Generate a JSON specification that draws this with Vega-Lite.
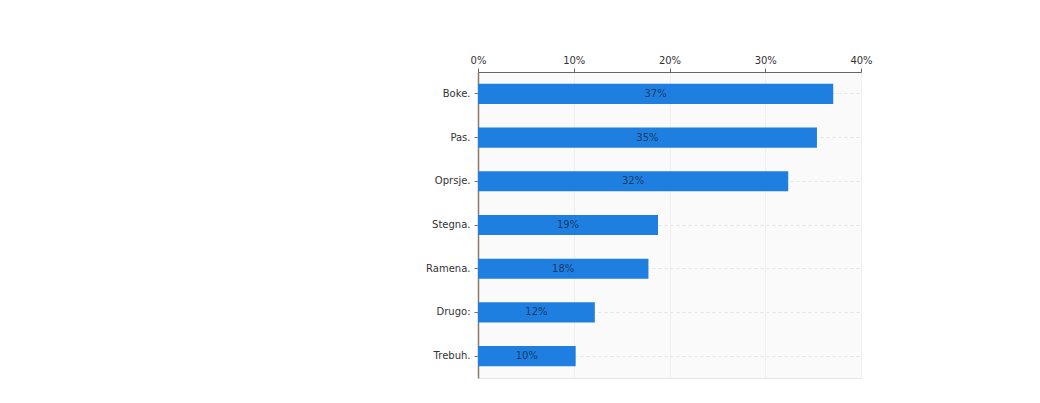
{
  "$schema": "https://vega.github.io/schema/vega-lite/v6.json",
  "autosize": "none",
  "width": 383,
  "height": 306,
  "padding": {"left": 478, "top": 72, "right": 179, "bottom": 25},
  "background": "white",
  "data": {"values": [
    {"cat": "Boke.", "v": 37.1, "lbl": "37%"},
    {"cat": "Pas.", "v": 35.4, "lbl": "35%"},
    {"cat": "Oprsje.", "v": 32.4, "lbl": "32%"},
    {"cat": "Stegna.", "v": 18.8, "lbl": "19%"},
    {"cat": "Ramena.", "v": 17.8, "lbl": "18%"},
    {"cat": "Drugo:", "v": 12.2, "lbl": "12%"},
    {"cat": "Trebuh.", "v": 10.2, "lbl": "10%"}
  ]},
  "encoding": {
    "y": {"field": "cat", "type": "nominal", "sort": null,
      "scale": {"paddingInner": 0.54, "paddingOuter": 0.27},
      "axis": {"title": null, "domain": true, "domainColor": "#8a7a6a", "domainWidth": 1.5, "ticks": true, "tickSize": 4, "tickColor": "#777", "labelFont": "DejaVu Sans", "labelFontSize": 10, "labelColor": "#333", "labelPadding": 4, "grid": true, "gridColor": "#e4e4e4", "gridDash": [3, 3]}}
  },
  "layer": [
    {
      "mark": {"type": "bar", "color": "#1e7fe0"},
      "encoding": {
        "x": {"field": "v", "type": "quantitative",
          "scale": {"domain": [0, 40], "nice": false},
          "axis": {"orient": "top", "title": null, "values": [0, 10, 20, 30, 40], "labelExpr": "datum.value + '%'", "labelFlush": false, "domainColor": "#666", "tickColor": "#666", "tickSize": 4, "labelFont": "DejaVu Sans", "labelFontSize": 10, "labelColor": "#333", "labelPadding": 3, "grid": true, "gridColor": "#f0f0f0"}}
      }
    },
    {
      "mark": {"type": "text", "font": "DejaVu Sans", "fontSize": 10, "color": "#173a6a", "align": "center", "baseline": "middle"},
      "encoding": {
        "x": {"field": "v", "type": "quantitative", "stack": "zero", "bandPosition": 0.5},
        "text": {"field": "lbl"}
      }
    }
  ],
  "config": {
    "view": {"fill": "#fafafa", "stroke": "#e6e6e6"}
  }
}
